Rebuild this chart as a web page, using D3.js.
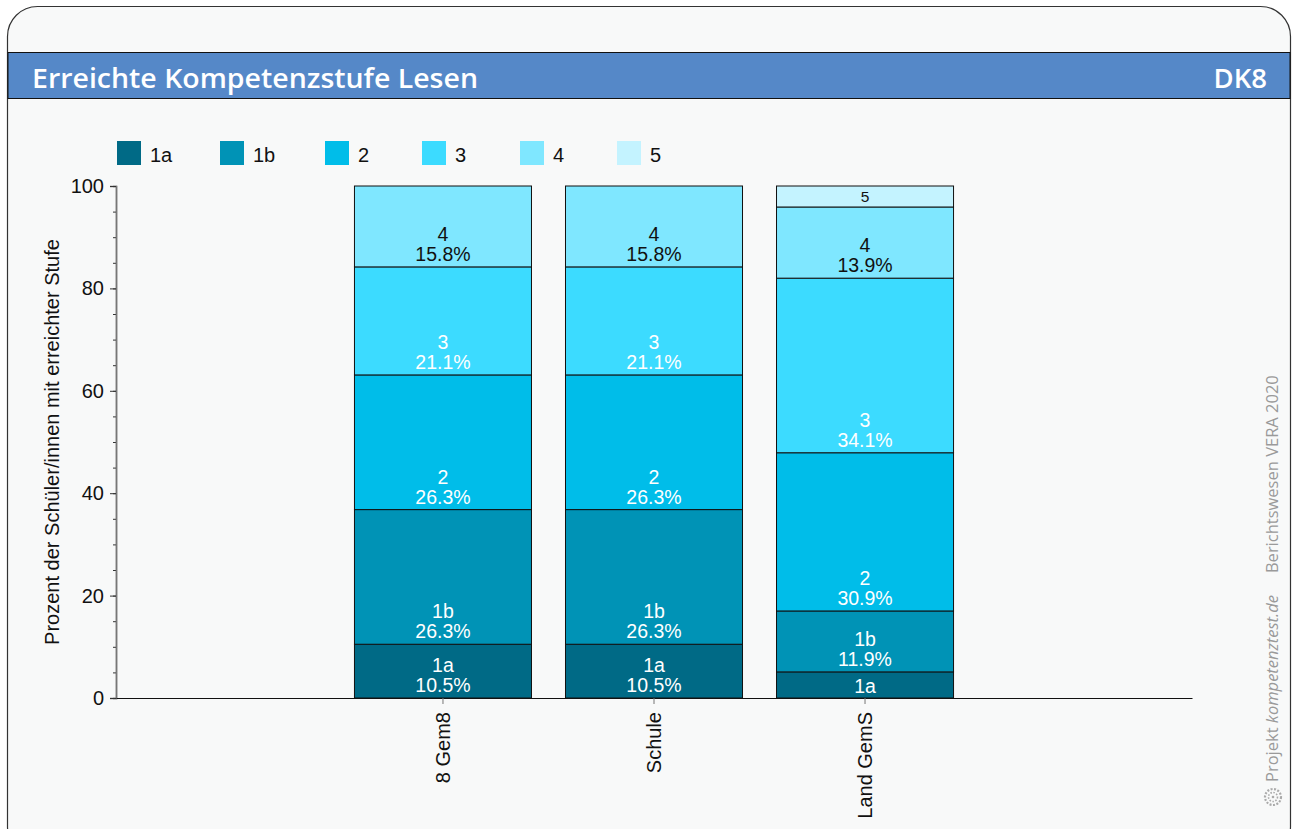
<!DOCTYPE html>
<html><head><meta charset="utf-8">
<script src="https://cdnjs.cloudflare.com/ajax/libs/d3/7.8.5/d3.min.js"></script>
<style>
html,body{margin:0;padding:0;background:#fff;}
svg{display:block;}
</style></head>
<body>
<svg id="chart" width="1297" height="829"></svg>
<script>
const categories = ["8 Gem8", "Schule", "Land GemS"];
const levels = ["1a", "1b", "2", "3", "4", "5"];
const v1a = [10.5, 10.5, 5.1];
const v1b = [26.3, 26.3, 11.9];
const v2  = [26.3, 26.3, 30.9];
const v3  = [21.1, 21.1, 34.1];
const v4  = [15.8, 15.8, 13.9];
const v5  = [0, 0, 4.1];
const colors = ["#006a86", "#0093b6", "#00bde9", "#3cdbff", "#7fe7ff", "#c4f3ff"];
const yTicks = [0, 20, 40, 60, 80, 100];
const title = "Erreichte Kompetenzstufe Lesen";
const code = "DK8";
const yTitle = "Prozent der Schüler/innen mit erreichter Stufe";

const series = [v1a, v1b, v2, v3, v4, v5];
const rows = categories.map((c, i) => {
  const o = {cat: c};
  levels.forEach((l, j) => o[l] = series[j][i]);
  return o;
});

const svg = d3.select("#chart");
const font = "'Liberation Sans', Arial, Helvetica, sans-serif";
const hfont = "'Open Sans', 'Noto Sans', sans-serif";
const fs = 20;

// card
svg.append("rect").attr("x", 7.5).attr("y", 6.5).attr("width", 1283).attr("height", 850)
  .attr("rx", 30).attr("fill", "#f8f9f9").attr("stroke", "#333").attr("stroke-width", 1.2);
// title bar
svg.append("rect").attr("x", 8).attr("y", 52.5).attr("width", 1282).attr("height", 46)
  .attr("fill", "#5588c8").attr("stroke", "#111").attr("stroke-width", 1);
svg.append("text").attr("x", 32).attr("y", 88).text(title)
  .attr("font-family", hfont).attr("font-weight", 600).attr("font-size", 27.5).attr("fill", "#fff")
  .attr("textLength", 446).attr("lengthAdjust", "spacingAndGlyphs");
svg.append("text").attr("x", 1267).attr("y", 88).attr("text-anchor", "end").text(code)
  .attr("font-family", hfont).attr("font-weight", 600).attr("font-size", 27.5).attr("fill", "#fff");

// scales
const x0 = 116, x1 = 1192, yb = 698, yt = 186;
const x = d3.scaleBand().domain(categories).range([x0, x1]).paddingInner(1 - 177 / 211).paddingOuter(1.13);
const y = d3.scaleLinear().domain([0, 100]).range([yb, yt]);

const stack = d3.stack().keys(levels)(rows);

// bars
const g = svg.append("g");
stack.forEach((layer, li) => {
  layer.forEach((d, i) => {
    const h = y(d[0]) - y(d[1]);
    if (h <= 0) return;
    g.append("rect").attr("x", x(categories[i])).attr("y", y(d[1]))
      .attr("width", x.bandwidth()).attr("height", h)
      .attr("fill", colors[li]).attr("stroke", "#111").attr("stroke-width", 1);
  });
});
// labels
stack.forEach((layer, li) => {
  const tc = li >= 4 ? "#111" : "#fff";
  layer.forEach((d, i) => {
    const h = y(d[0]) - y(d[1]);
    if (h <= 0) return;
    const cx = x(categories[i]) + x.bandwidth() / 2;
    const bottom = y(d[0]);
    const val = d[1] - d[0];
    if (h > 40) {
      g.append("text").attr("x", cx).attr("y", bottom - 26).attr("text-anchor", "middle")
        .attr("font-family", font).attr("font-size", 19.5).attr("fill", tc).text(levels[li]);
      g.append("text").attr("x", cx).attr("y", bottom - 6).attr("text-anchor", "middle")
        .attr("font-family", font).attr("font-size", 19.5).attr("fill", tc).text(val.toFixed(1) + "%");
    } else if (h > 24) {
      g.append("text").attr("x", cx).attr("y", bottom - 5).attr("text-anchor", "middle")
        .attr("font-family", font).attr("font-size", 19.5).attr("fill", tc).text(levels[li]);
    } else {
      g.append("text").attr("x", cx).attr("y", bottom - h / 2 + 5.5).attr("text-anchor", "middle")
        .attr("font-family", font).attr("font-size", 15.5).attr("fill", tc).text(levels[li]);
    }
  });
});

// y axis
const yAxisG = svg.append("g").attr("transform", `translate(${x0},0)`);
yAxisG.call(d3.axisLeft(y).tickValues(d3.range(0, 101, 5)).tickSize(3).tickFormat(""));
yAxisG.call(g2 => g2.selectAll(".tick line").attr("stroke", "#333"));
const yAxisMaj = svg.append("g").attr("transform", `translate(${x0},0)`)
  .call(d3.axisLeft(y).tickValues(yTicks).tickSize(6).tickPadding(6));
yAxisMaj.selectAll(".tick text").attr("font-family", font).attr("font-size", fs).attr("fill", "#111");
yAxisMaj.selectAll(".tick line").attr("stroke", "#333");
svg.selectAll(".domain").attr("stroke", "#777").attr("stroke-width", 1.5);

// x axis
const xAxisG = svg.append("g").attr("transform", `translate(0,${yb})`)
  .call(d3.axisBottom(x).tickSize(6).tickSizeOuter(0));
xAxisG.select(".domain").attr("stroke", "#111").attr("stroke-width", 1.2);
xAxisG.selectAll(".tick line").attr("stroke", "#777");
xAxisG.selectAll(".tick text").attr("font-family", font).attr("font-size", fs).attr("fill", "#111")
  .attr("transform", "rotate(-90)").attr("text-anchor", "end").attr("x", -14).attr("y", 0).attr("dy", "0.35em");

// y title
svg.append("text").attr("transform", `translate(59,442) rotate(-90)`).attr("text-anchor", "middle")
  .attr("font-family", font).attr("font-size", fs).attr("fill", "#111").text(yTitle);

// legend
const lx = [117, 220, 325, 422, 520, 617];
levels.forEach((l, i) => {
  svg.append("rect").attr("x", lx[i]).attr("y", 141).attr("width", 24).attr("height", 24).attr("fill", colors[i]);
  svg.append("text").attr("x", lx[i] + 33).attr("y", 162).attr("font-family", font).attr("font-size", fs)
    .attr("fill", "#111").text(l);
});

// watermark
const wm = svg.append("text").attr("transform", "translate(1278,782) rotate(-90)")
  .attr("font-family", hfont).attr("font-size", 16.5).attr("fill", "#9a9a9a");
wm.append("tspan").text("Projekt ");
wm.append("tspan").attr("font-style", "italic").text("kompetenztest.de");
wm.append("tspan").attr("dx", 22).text("Berichtswesen VERA 2020");
// logo
const lg = svg.append("g").attr("transform", "translate(1273,797)");
lg.append("circle").attr("r", 8).attr("fill", "none").attr("stroke", "#aaa").attr("stroke-width", 2.2).attr("stroke-dasharray", "2,1.5");
lg.append("circle").attr("r", 4.5).attr("fill", "none").attr("stroke", "#aaa").attr("stroke-width", 1.6).attr("stroke-dasharray", "1.5,1.5");
lg.append("circle").attr("r", 1.3).attr("fill", "#aaa");
</script>
</body></html>
